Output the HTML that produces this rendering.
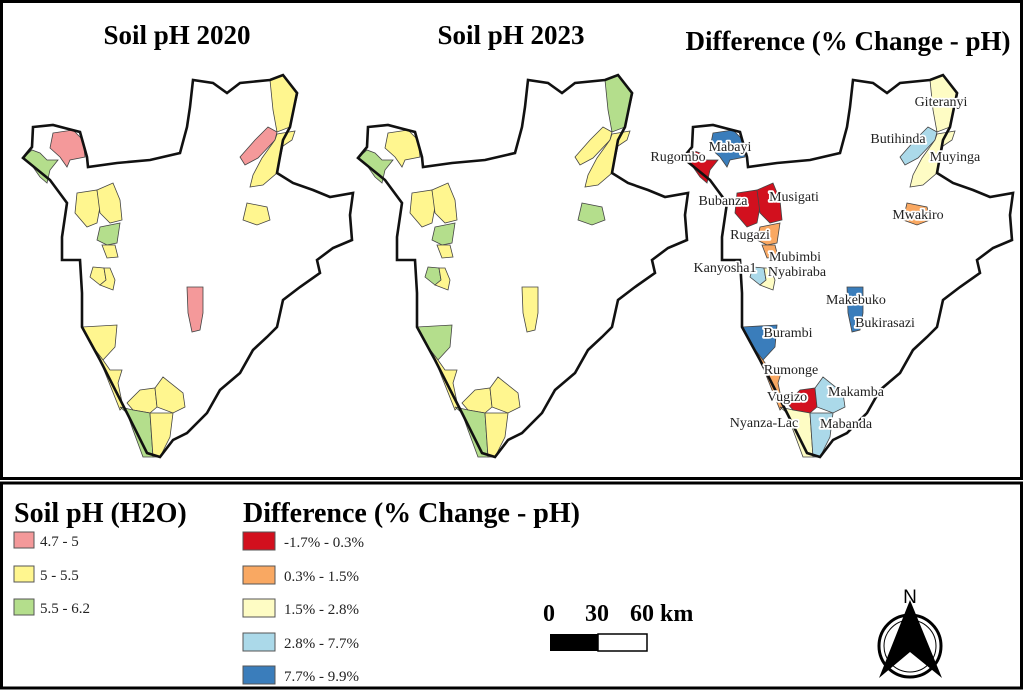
<!DOCTYPE html>
<html><head><meta charset="utf-8"><style>
body{margin:0;background:#fff;width:1024px;height:690px;overflow:hidden}
svg{display:block}
.t{font-family:"Liberation Serif",serif;font-weight:bold}
.lb{font-family:"Liberation Serif",serif;font-size:14px;fill:#222;paint-order:stroke;stroke:#fff;stroke-width:3.5px;stroke-linejoin:round}
.lg{font-family:"Liberation Serif",serif;font-size:15px;fill:#222}
</style></head><body>
<svg width="1024" height="690" viewBox="0 0 1024 690">
<defs>
<polygon id="out" points="33,127 53,125 80,132 87,157 88,167 117,163 150,160 180,153 187,127 190,107 193,80 213,83 227,93 240,83 270,80 283,75 297,93 290,127 283,140 277,173 293,183 313,190 330,197 353,193 350,215 352,240 333,248 317,260 320,273 300,287 283,300 277,327 267,337 253,350 240,373 220,390 207,413 187,433 173,440 160,457 147,453 127,413 100,360 82,327 82,293 80,260 62,260 62,237 67,203 50,180 23,158 32,147"/>
<polygon id="d1" points="53,133 73,130 83,140 85,157 70,160 67,167 60,157 50,148"/>
<polygon id="d2" points="23,158 32,150 40,153 47,160 58,160 50,170 47,183 40,177 33,167"/>
<polygon id="d3" points="270,80 283,75 298,93 290,127 277,132 273,110"/>
<polygon id="d4" points="277,132 268,127 255,140 240,157 245,165 258,158 275,140"/>
<polygon id="d5" points="277,134 295,131 292,140 283,146 277,173 263,185 250,187 253,175 262,158 275,140"/>
<polygon id="d6" points="247,203 267,207 270,220 257,225 243,220"/>
<polygon id="d7" points="77,193 97,190 100,207 97,223 87,227 75,213"/>
<polygon id="d8" points="97,190 113,183 120,200 122,220 110,223 100,213"/>
<polygon id="d9" points="100,227 120,223 117,243 107,245 97,240"/>
<polygon id="d10" points="102,245 115,245 118,257 107,258"/>
<polygon id="d11" points="93,267 104,268 106,280 100,285 90,277"/>
<polygon id="d12" points="104,268 110,268 115,280 113,290 100,285 106,280"/>
<polygon id="d13" points="187,287 203,287 203,313 200,330 192,332 188,313"/>
<polygon id="d14" points="82,327 117,325 115,347 103,360 93,347"/>
<polygon id="d15" points="82,327 93,347 103,360 110,370 122,370 118,383 123,407 120,410 100,360"/>
<polygon id="d16" points="127,403 140,390 155,388 157,407 150,413 133,410"/>
<polygon id="d17" points="155,388 163,377 183,393 185,407 173,413 157,407"/>
<polygon id="d18" points="120,407 133,410 150,413 153,457 143,457 133,430 127,413"/>
<polygon id="d19" points="150,413 173,413 170,437 160,457 153,457"/>
</defs>
<rect x="1.5" y="1.5" width="1020" height="477" fill="#fff" stroke="#000" stroke-width="3"/>
<rect x="1.5" y="483" width="1020" height="205" fill="#fff" stroke="#000" stroke-width="3"/>

<g stroke="#444" stroke-width="0.8">
<g>
<use href="#out" fill="#fff" stroke="none"/>
<use href="#d1" fill="#f4999a"/><use href="#d2" fill="#b4de8c"/><use href="#d3" fill="#fff68f"/><use href="#d4" fill="#f4999a"/><use href="#d5" fill="#fff68f"/><use href="#d6" fill="#fff68f"/><use href="#d7" fill="#fff68f"/><use href="#d8" fill="#fff68f"/><use href="#d9" fill="#b4de8c"/><use href="#d10" fill="#fff68f"/><use href="#d11" fill="#fff68f"/><use href="#d12" fill="#fff68f"/><use href="#d13" fill="#f4999a"/><use href="#d14" fill="#fff68f"/><use href="#d15" fill="#fff68f"/><use href="#d16" fill="#fff68f"/><use href="#d17" fill="#fff68f"/><use href="#d18" fill="#b4de8c"/><use href="#d19" fill="#fff68f"/>
<use href="#out" fill="none" stroke="#111" stroke-width="2.6"/>
</g>
<g transform="translate(335,0)">
<use href="#out" fill="#fff" stroke="none"/>
<use href="#d1" fill="#fff68f"/><use href="#d2" fill="#b4de8c"/><use href="#d3" fill="#b4de8c"/><use href="#d4" fill="#fff68f"/><use href="#d5" fill="#fff68f"/><use href="#d6" fill="#b4de8c"/><use href="#d7" fill="#fff68f"/><use href="#d8" fill="#fff68f"/><use href="#d9" fill="#b4de8c"/><use href="#d10" fill="#fff68f"/><use href="#d11" fill="#b4de8c"/><use href="#d12" fill="#fff68f"/><use href="#d13" fill="#fff68f"/><use href="#d14" fill="#b4de8c"/><use href="#d15" fill="#fff68f"/><use href="#d16" fill="#fff68f"/><use href="#d17" fill="#fff68f"/><use href="#d18" fill="#b4de8c"/><use href="#d19" fill="#fff68f"/>
<use href="#out" fill="none" stroke="#111" stroke-width="2.6"/>
</g>
<g transform="translate(660,0)">
<use href="#out" fill="#fff" stroke="none"/>
<use href="#d1" fill="#3a7dbb"/><use href="#d2" fill="#d2101e"/><use href="#d3" fill="#fefcc4"/><use href="#d4" fill="#abd9e9"/><use href="#d5" fill="#fefcc4"/><use href="#d6" fill="#f9a862"/><use href="#d7" fill="#d2101e"/><use href="#d8" fill="#d2101e"/><use href="#d9" fill="#f9a862"/><use href="#d10" fill="#f9a862"/><use href="#d11" fill="#abd9e9"/><use href="#d12" fill="#fefcc4"/><use href="#d13" fill="#3a7dbb"/><use href="#d14" fill="#3a7dbb"/><use href="#d15" fill="#f9a862"/><use href="#d16" fill="#d2101e"/><use href="#d17" fill="#abd9e9"/><use href="#d18" fill="#fefcc4"/><use href="#d19" fill="#abd9e9"/>
<use href="#out" fill="none" stroke="#111" stroke-width="2.6"/>
</g>
</g>

<text class="t" x="177" y="44" font-size="27" text-anchor="middle">Soil pH 2020</text>
<text class="t" x="511" y="44" font-size="27" text-anchor="middle">Soil pH 2023</text>
<text class="t" x="848" y="50" font-size="27" text-anchor="middle">Difference (% Change - pH)</text>

<g class="lb" text-anchor="middle">
<text x="941" y="106">Giteranyi</text>
<text x="898" y="143">Butihinda</text>
<text x="955" y="161">Muyinga</text>
<text x="730" y="151">Mabayi</text>
<text x="678" y="161">Rugombo</text>
<text x="723" y="205">Bubanza</text>
<text x="794" y="201">Musigati</text>
<text x="918" y="219">Mwakiro</text>
<text x="750" y="239">Rugazi</text>
<text x="795" y="261">Mubimbi</text>
<text x="725" y="272">Kanyosha1</text>
<text x="797" y="276">Nyabiraba</text>
<text x="856" y="304">Makebuko</text>
<text x="885" y="327">Bukirasazi</text>
<text x="788" y="337">Burambi</text>
<text x="791" y="374">Rumonge</text>
<text x="856" y="396">Makamba</text>
<text x="787" y="401">Vugizo</text>
<text x="764" y="427">Nyanza-Lac</text>
<text x="846" y="428">Mabanda</text>
</g>

<text class="t" x="14" y="522" font-size="28">Soil pH (H2O)</text>
<g stroke="#555" stroke-width="1">
<rect x="14" y="532" width="20" height="16" fill="#f4999a"/>
<rect x="14" y="566" width="20" height="16" fill="#fff68f"/>
<rect x="14" y="599" width="20" height="16" fill="#b4de8c"/>
</g>
<text class="lg" x="40" y="546">4.7 - 5</text>
<text class="lg" x="40" y="580">5 - 5.5</text>
<text class="lg" x="40" y="613">5.5 - 6.2</text>

<text class="t" x="243" y="522" font-size="28">Difference (% Change - pH)</text>
<g stroke="#555" stroke-width="1">
<rect x="243" y="532" width="32" height="18" fill="#d2101e"/>
<rect x="243" y="566" width="32" height="18" fill="#f9a862"/>
<rect x="243" y="599" width="32" height="18" fill="#fefcc4"/>
<rect x="243" y="633" width="32" height="18" fill="#abd9e9"/>
<rect x="243" y="666" width="32" height="18" fill="#3a7dbb"/>
</g>
<text class="lg" x="284" y="547">-1.7% - 0.3%</text>
<text class="lg" x="284" y="581">0.3% - 1.5%</text>
<text class="lg" x="284" y="614">1.5% - 2.8%</text>
<text class="lg" x="284" y="648">2.8% - 7.7%</text>
<text class="lg" x="284" y="681">7.7% - 9.9%</text>

<text class="t" x="543" y="621" font-size="24">0</text>
<text class="t" x="585" y="621" font-size="24">30</text>
<text class="t" x="630" y="621" font-size="24">60 km</text>
<rect x="550" y="634" width="48" height="17" fill="#000"/>
<rect x="598" y="634" width="49" height="17" fill="#fff" stroke="#000" stroke-width="1.5"/>

<text x="910" y="603" font-family="Liberation Sans,sans-serif" font-size="19" text-anchor="middle">N</text>
<circle cx="910" cy="646" r="31" fill="none" stroke="#000" stroke-width="3"/>
<circle cx="910" cy="646" r="26" fill="none" stroke="#000" stroke-width="1"/>
<polygon points="910,600 942,678 910,652 879,678" fill="#000"/>
</svg>
</body></html>
